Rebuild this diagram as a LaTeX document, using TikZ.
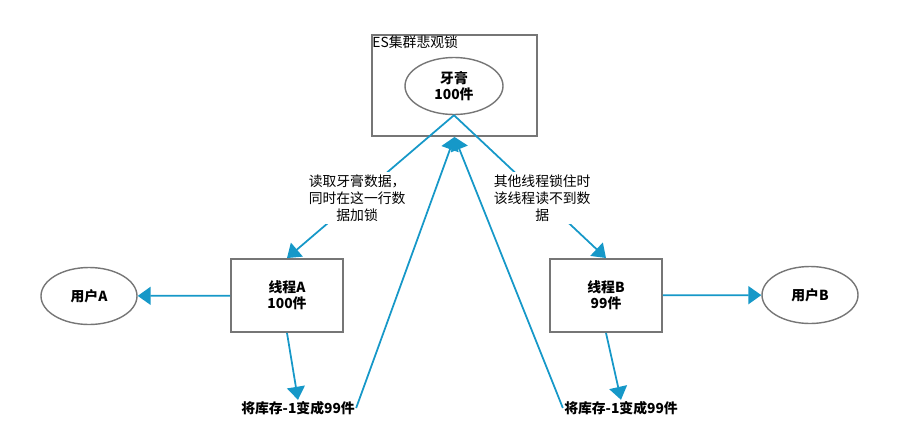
\documentclass[tikz,border=0pt]{standalone}
\usepackage{fontspec}
\setmainfont{Noto Sans CJK SC}
\usetikzlibrary{arrows.meta,shapes.geometric}
\definecolor{boxgray}{RGB}{118,118,118}
\definecolor{linkblue}{RGB}{22,152,200}
\begin{document}
\begin{tikzpicture}[x=0.03cm,y=-0.03cm,>={Triangle[length=0.39cm,width=0.54cm]},
  frame/.style={draw=boxgray,line width=1.6pt,minimum width=3.36cm,minimum height=2.19cm,align=center,font=\fontsize{11.8}{13.5}\selectfont\bfseries},
  user/.style={ellipse,draw=boxgray,line width=1.2pt,minimum width=2.88cm,minimum height=1.71cm,align=center,inner sep=0pt,font=\fontsize{11.8}{13.5}\selectfont\bfseries},
  result/.style={inner sep=1pt,font=\fontsize{11.8}{13.5}\selectfont\bfseries},
  note/.style={fill=white,align=center,inner sep=2pt,font=\fontsize{11.8}{14.5}\selectfont},
  link/.style={draw=linkblue,line width=1.5pt,->}]
 \useasboundingbox (0,0) rectangle (900,445);
 \node[frame,minimum width=4.95cm,minimum height=3.03cm] (es) at (454.5,85.5) {};
 \node[anchor=north west,inner sep=1pt,font=\fontsize{11.8}{13.5}\selectfont] (estitle) at (es.north west) {ES集群悲观锁};
 \node[user,minimum width=2.94cm] (paste) at (454,86) {牙膏\\100件};
 \node[frame] (tA) at (287,295.5) {线程A\\100件};
 \node[frame] (tB) at (606,295.5) {线程B\\99件};
 \node[user] (uA) at (89,296) {用户A};
 \node[user] (uB) at (810,295) {用户B};
 \node[result] (rA) at (298,408) {将库存-1变成99件};
 \node[result] (rB) at (621,408) {将库存-1变成99件};
 \draw[link] (tA) -- (uA);
 \draw[link] (tB) -- (uB);
 \draw[link] (paste.south) -- node[note,pos=0.58] (nA) {读取牙膏数据，\\同时在这一行数\\据加锁} (tA.north);
 \draw[link] (paste.south) -- node[note,pos=0.58] (nB) {其他线程锁住时\\该线程读不到数\\据} (tB.north);
 \draw[link] (tA.south) -- (rA.north);
 \draw[link] (tB.south) -- (rB.north);
 \draw[link] (rA.east) -- (es.south);
 \draw[link] (rB.west) -- (es.south);
\end{tikzpicture}
\end{document}
